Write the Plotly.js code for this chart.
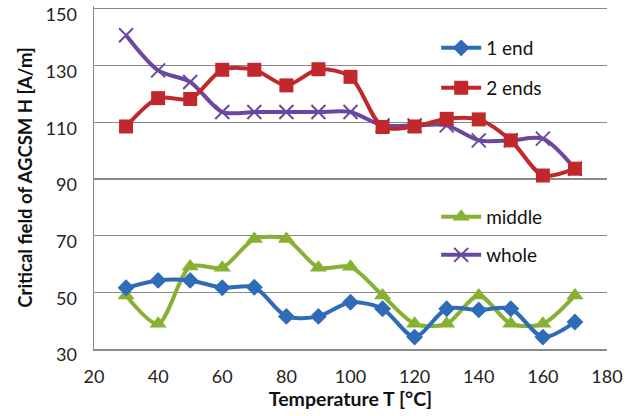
<!DOCTYPE html>
<html>
<head>
<meta charset="utf-8">
<script src="https://cdn.plot.ly/plotly-3.0.1.min.js"></script>
<style>html,body{margin:0;padding:0;background:#fff}#chart{width:640px;height:416px}</style>
</head>
<body>
<div id="chart"></div>
<script>
var temperature = [30, 40, 50, 60, 70, 80, 90, 100, 110, 120, 130, 140, 150, 160, 170];
var oneEnd  = [51.6, 54.2, 54.2, 51.6, 51.8, 41.5, 41.5, 46.5, 44.2, 34.2, 44.2, 43.8, 44.2, 34.2, 39.5];
var twoEnds = [108.5, 118.5, 118.2, 128.5, 128.5, 123, 128.7, 126, 108.3, 108.5, 111.2, 111, 103.6, 91.2, 93.6];
var middle  = [48.9, 38.9, 59.1, 58.7, 68.8, 68.8, 58.7, 59, 48.9, 38.9, 38.9, 48.9, 38.9, 38.9, 48.9];
var whole   = [140.7, 128.3, 124.2, 113.6, 113.6, 113.6, 113.6, 113.6, 108.9, 108.9, 108.9, 103.6, 103.6, 104.2, 93.6];
var seriesNames = ['1 end', '2 ends', 'middle', 'whole'];
var xTicks = [20, 40, 60, 80, 100, 120, 140, 160, 180];
var yTicks = [30, 50, 70, 90, 110, 130, 150];

var FONT = 'Lato, "Open Sans", sans-serif';
function tr(y, name, color, symbol, size, legend) {
  return {
    x: temperature, y: y, name: name, type: 'scatter', mode: 'lines+markers',
    line: {color: color, width: 4, shape: 'spline', smoothing: 0.8},
    marker: {symbol: symbol, size: size, color: color, line: {color: color, width: symbol === 'x-thin' ? 2 : 0}},
    legend: legend
  };
}
var data = [
  tr(whole,   seriesNames[3], '#6B48A0', 'x-thin', 14, 'legend4'),
  tr(middle,  seriesNames[2], '#88B033', 'triangle-up', 15, 'legend3'),
  tr(oneEnd,  seriesNames[0], '#2F6CB8', 'diamond', 13, 'legend'),
  tr(twoEnds, seriesNames[1], '#C0282B', 'square', 14, 'legend2')
];
function leg(yPix) {
  return {x: 0.667, xanchor: 'left', y: 1 - (yPix - 6) / 343, yanchor: 'middle',
          bgcolor: 'rgba(0,0,0,0)', font: {family: FONT, size: 19, color: '#111'},
          itemwidth: 40};
}
var layout = {
  width: 640, height: 416,
  margin: {l: 94, r: 33, t: 6, b: 67},
  paper_bgcolor: '#fff', plot_bgcolor: '#fff',
  showlegend: true,
  legend: leg(48), legend2: leg(88), legend3: leg(217), legend4: leg(255),
  xaxis: {
    range: [20, 180], tickvals: xTicks, ticktext: xTicks.map(String),
    showgrid: false, zeroline: false, showline: true, linecolor: '#8a8a8a', linewidth: 1.5,
    ticks: '', ticklabelstandoff: 11, tickfont: {family: FONT, size: 18, color: '#222'},
    title: {text: 'Temperature T [°C]', font: {family: FONT, size: 19.5, color: '#111', weight: 'bold'}, standoff: 2}
  },
  yaxis: {
    range: [30, 151], tickvals: yTicks, ticktext: yTicks.map(String),
    showgrid: true, gridcolor: '#8a8a8a', gridwidth: 1.2, zeroline: false,
    showline: true, linecolor: '#8a8a8a', linewidth: 1.5, ticks: '', ticklabelstandoff: 12,
    ticklabelshift: 6, ticklabeloverflow: 'allow',
    tickfont: {family: FONT, size: 18, color: '#222'},
    title: {text: 'Critical field of AGCSM H [A/m]', font: {family: FONT, size: 18.5, color: '#111', weight: 'bold'}, standoff: 8}
  }
};
Plotly.newPlot('chart', data, layout, {displayModeBar: false, staticPlot: true});
</script>
</body>
</html>
